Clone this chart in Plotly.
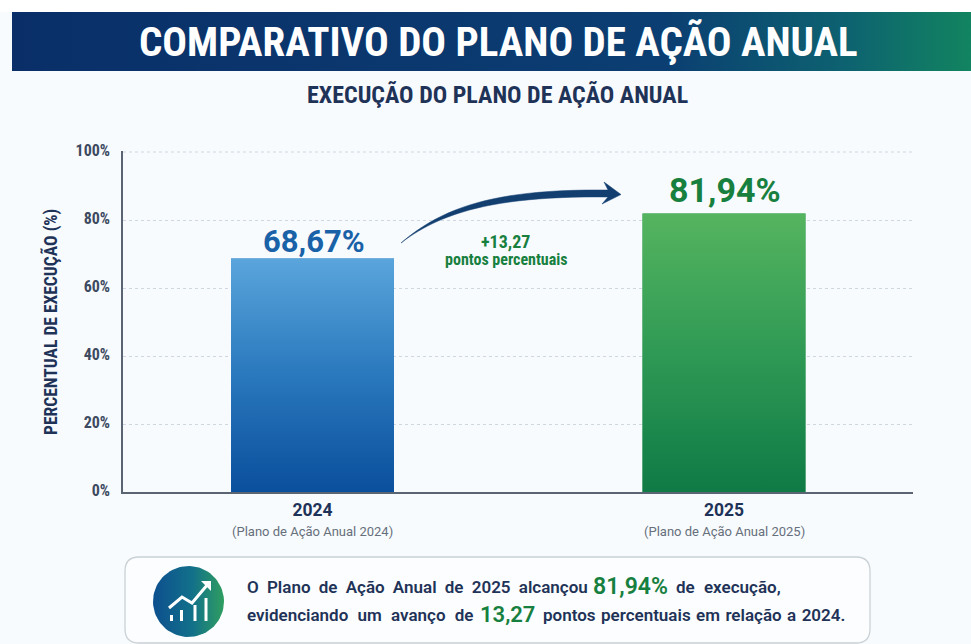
import numpy as np
import plotly.graph_objects as go

W, H = 971, 644
years = ["2024", "2025"]
values = [68.67, 81.94]
value_labels = ["68,67%", "81,94%"]
subtitles = ["(Plano de Ação Anual 2024)", "(Plano de Ação Anual 2025)"]
y_ticks = [0, 20, 40, 60, 80, 100]
y_tick_labels = ["0%", "20%", "40%", "60%", "80%", "100%"]
bar_scales = [
    [[0, "#0a4f9c"], [0.5, "#2a78bd"], [1, "#5aa5dc"]],
    [[0, "#0f7a45"], [0.5, "#2f9a55"], [1, "#55b45f"]],
]
label_colors = ["#1a62a8", "#17803f"]
label_sizes = [31, 34]
label_shift = [-3, 1]
BAR_WIDTH = 0.396
NAVY = "#1f3358"
GREEN = "#17803f"
COND = "Roboto Condensed"

fig = go.Figure()

def px_trace(xs, ys, **kw):
    fig.add_trace(go.Scatter(x=xs, y=ys, xaxis="x2", yaxis="y2", mode="lines",
                             hoverinfo="skip", showlegend=False, **kw))

px_trace([12, 971, 971, 12, 12], [12, 12, 71, 71, 12], fill="toself", line=dict(width=0),
         fillgradient=dict(type="horizontal",
                           colorscale=[[0, "#0a2f68"], [0.68, "#0b3e72"], [0.87, "#0d6270"], [1, "#128460"]]))

theta = np.linspace(0, 2 * np.pi, 90)
px_trace(188.5 + 35.5 * np.cos(theta), 601.5 + 35.5 * np.sin(theta), fill="toself", line=dict(width=0),
         fillgradient=dict(type="horizontal", colorscale=[[0, "#0d4f8f"], [0.55, "#12708a"], [1, "#2f9e60"]]))

fig.add_trace(go.Bar(x=[0, 1], y=values, width=BAR_WIDTH, marker=dict(color=["#2a78bd", "#2f9a55"], line=dict(width=0)),
                     hoverinfo="skip", showlegend=False))
for i, v in enumerate(values):
    a, b = i - BAR_WIDTH / 2, i + BAR_WIDTH / 2
    fig.add_trace(go.Scatter(x=[a, b, b, a, a], y=[0, 0, v, v, 0], mode="lines", fill="toself",
                             line=dict(width=0), hoverinfo="skip", showlegend=False,
                             fillgradient=dict(type="vertical", colorscale=bar_scales[i])))

anns = []
def T(x, y, text, size, color, family="Roboto", weight=400, xanchor="center", angle=0, ws=0):
    if ws:
        text = f'<span style="word-spacing:{ws}px">{text}</span>'
    anns.append(dict(x=x, y=y, xref="x2", yref="y2", text=text, showarrow=False, xanchor=xanchor,
                     yanchor="middle", textangle=angle,
                     font=dict(size=size, color=color, family=family, weight=weight)))

T(498, 42, "COMPARATIVO DO PLANO DE AÇÃO ANUAL", 41, "white", COND, 700)
T(497, 95, "EXECUÇÃO DO PLANO DE AÇÃO ANUAL", 24, NAVY, COND, 700)
T(51, 322, "PERCENTUAL DE EXECUÇÃO (%)", 17.5, NAVY, COND, 700, angle=-90)
T(505, 241, "+13,27", 18, GREEN, COND, 700)
T(506, 259, "pontos percentuais", 16, GREEN, COND, 700)

for i, v in enumerate(values):
    anns.append(dict(x=i, y=v, xref="x", yref="y", text=value_labels[i], showarrow=False, yanchor="bottom",
                     yshift=label_shift[i], xshift=1,
                     font=dict(size=label_sizes[i], color=label_colors[i], family="Roboto", weight=700)))
    anns.append(dict(x=i, y=0, xref="x", yref="y", text=subtitles[i], showarrow=False, yanchor="top", yshift=-30,
                     font=dict(size=13, color="#666f7c", family="Roboto")))

T(245, 587, "O Plano de Ação Anual de 2025 alcançou", 17, NAVY, "Roboto", 600, "left", ws=4)
T(591, 586, "81,94%", 23, GREEN, "Roboto", 600, "left")
T(674, 587, "de execução,", 17, NAVY, "Roboto", 600, "left", ws=5)
T(245, 615, "evidenciando um avanço de", 17, NAVY, "Roboto", 600, "left", ws=5)
T(478, 614, "13,27", 22, GREEN, "Roboto", 600, "left")
T(541, 615, "pontos percentuais em relação a 2024.", 17, NAVY, "Roboto", 600, "left", ws=1.2)

def sh(**kw):
    return dict(xref="x2", yref="y2", **kw)

shapes = [
    sh(type="rect", x0=0, x1=W, y0=0, y1=12, fillcolor="white", line=dict(width=0), layer="below"),
    sh(type="path", layer="below", fillcolor="#fbfdfe", line=dict(color="#c9d1d6", width=1.3),
       path="M 139 557 L 856 557 Q 870 557 870 571 L 870 629 Q 870 643 856 643 L 139 643 Q 125 643 125 629 L 125 571 Q 125 557 139 557 Z"),
    sh(type="path", fillcolor="#123f70", line=dict(color="#123f70", width=0.5),
       path="M 401 243 C 445 205 500 189 608 190 L 604 182 L 621 194.5 L 602 204 L 608 197 C 505 196 445 209 401 243 Z"),
    sh(type="path", line=dict(color="white", width=3), path="M 169 608 L 182 597 L 192 603 L 208 584"),
    sh(type="path", fillcolor="white", line=dict(width=0), path="M 201 581 L 211 581 L 211 591 Z"),
    dict(type="line", xref="x domain", yref="y", x0=0, x1=1, y0=y_ticks[-1], y1=y_ticks[-1], layer="below",
         line=dict(color="#cfd8e0", width=1, dash="dot")),
]
for bx, top in [(171.5, 615), (181.5, 610), (195, 605), (206, 598)]:
    shapes.append(sh(type="line", x0=bx, x1=bx, y0=621, y1=top, line=dict(color="white", width=3)))

fig.update_layout(
    width=W, height=H, margin=dict(l=0, r=0, t=0, b=0, autoexpand=False), autosize=False,
    paper_bgcolor="#f8fbfe", plot_bgcolor="rgba(0,0,0,0)", showlegend=False,
    font=dict(family="Roboto"),
    xaxis=dict(domain=[123 / W, 913 / W], range=[-0.4605, 1.4593], tickvals=[0, 1], ticktext=years,
               showgrid=False, zeroline=False, showline=True, linecolor="#5b6472", linewidth=1.5, ticks="",
               automargin=False,
               tickfont=dict(size=17.5, color=NAVY, family="Roboto", weight=700), ticklabelstandoff=1),
    yaxis=dict(domain=[(H - 492) / H, (H - 151) / H], range=[0, 100.294], tickvals=y_ticks, ticktext=y_tick_labels,
               showgrid=True, griddash="dot", gridcolor="#cfd8e0", gridwidth=1, zeroline=False,
               showline=True, linecolor="#5b6472", linewidth=1.5, ticks="", automargin=False,
               tickfont=dict(size=16, color="#3d4a60", family=COND, weight=700), ticklabelstandoff=8,
               ticklabelshift=-2),
    xaxis2=dict(domain=[0, 1], range=[0, W], visible=False, anchor="y2", fixedrange=True),
    yaxis2=dict(domain=[0, 1], range=[H, 0], visible=False, anchor="x2", fixedrange=True),
    annotations=anns, shapes=shapes,
)
fig.write_html("out.html", config=dict(displayModeBar=False),
               post_script="document.body.style.margin='0';document.body.style.overflow='hidden';")
